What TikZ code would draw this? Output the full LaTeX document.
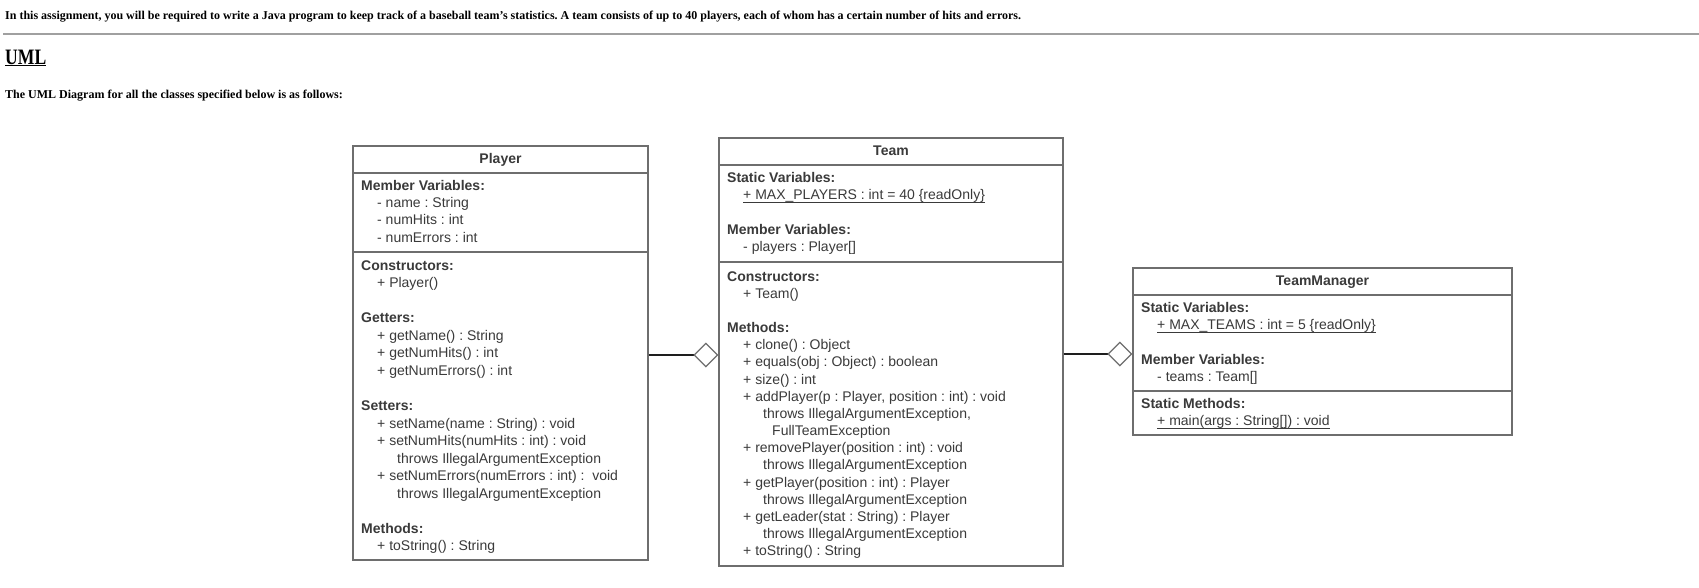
\documentclass[tikz,border=0pt]{standalone}
\usepackage{fontspec}
\setmainfont{Liberation Serif}
\setsansfont{Liberation Sans}
\usetikzlibrary{arrows.meta,positioning}
\definecolor{umlline}{HTML}{6E6E6E}
\definecolor{umltext}{HTML}{3A3A3A}
\definecolor{umlconn}{HTML}{1E1E1E}
\definecolor{rulegray}{HTML}{A0A0A0}
\frenchspacing
\newcommand{\umlindent}[1]{\hspace*{#1pt}}
\newlength{\umlulwd}
\newcommand{\umlunder}[1]{\settowidth{\umlulwd}{#1}\rlap{\rule[-2.6pt]{\umlulwd}{0.8pt}}#1}

\tikzset{
  classbox/.style={draw=umlline, line width=1.3pt, inner sep=0pt, fill=white},
  divider/.style={draw=umlline, line width=1.3pt},
  classname/.style={font=\sffamily\bfseries\fontsize{14}{17}\selectfont, text=umltext, anchor=base, inner sep=0pt},
  members/.style={font=\sffamily\fontsize{14}{#1}\selectfont, text=umltext, align=left, anchor=north west, inner sep=0pt},
  pagetext/.style={font=\bfseries\fontsize{12}{14}\selectfont, anchor=base west, inner sep=0pt},
  agg/.style={draw=umlconn, line width=2.2pt, -{Diamond[open, length=25pt, width=25pt, line width=1.3pt, color=umlline]}},
}

\begin{document}
\begin{tikzpicture}[x=1pt,y=-1pt]
\fill[white] (0,0) rectangle (1699,587);
\useasboundingbox (0,0) rectangle (1699,587);

% page text
\node[pagetext] (intro) at (5,19.5) {In this assignment, you will be required to write a Java program to keep track of a baseball team’s statistics. A team consists of up to 40 players, each of whom has a certain number of hits and errors.};
\draw[rulegray, line width=1.5pt] (3,34) -- (1699,34);
\node[anchor=base west, inner sep=0pt] (umlhead) at (5,64) {\scalebox{0.8}[1]{\fontsize{22}{26}\selectfont\bfseries\underline{UML}}};
\node[pagetext] (umlintro) at (5,98.5) {The UML Diagram for all the classes specified below is as follows:};

% class boxes
\node[classbox, minimum width=295pt, minimum height=414pt] (player) at (500.5,353) {};
\node[classbox, minimum width=344pt, minimum height=428pt] (team) at (891,352) {};
\node[classbox, minimum width=379pt, minimum height=167pt] (manager) at (1322.5,351.5) {};

% compartments
\draw[divider] (353,173) -- (648,173);
\draw[divider] (353,252) -- (648,252);
\draw[divider] (719,165) -- (1063,165);
\draw[divider] (719,262) -- (1063,262);
\draw[divider] (1133,295) -- (1512,295);
\draw[divider] (1133,391) -- (1512,391);

% Player
\node[classname] (playername) at (500.5,163) {Player};
\node[members=17.4] (playervars) at (361,177.8) {\strut\textbf{Member Variables:}\\
  \umlindent{16}- name : String\\
  \umlindent{16}- numHits : int\\
  \umlindent{16}- numErrors : int};
\node[members=17.55] (playerops) at (361,257.7) {\strut\textbf{Constructors:}\\
  \umlindent{16}+ Player()\\[17.55pt]
  \textbf{Getters:}\\
  \umlindent{16}+ getName() : String\\
  \umlindent{16}+ getNumHits() : int\\
  \umlindent{16}+ getNumErrors() : int\\[17.55pt]
  \textbf{Setters:}\\
  \umlindent{16}+ setName(name : String) : void\\
  \umlindent{16}+ setNumHits(numHits : int) : void\\
  \umlindent{36}throws IllegalArgumentException\\
  \umlindent{16}+ setNumErrors(numErrors : int) :\ \ void\\
  \umlindent{36}throws IllegalArgumentException\\[17.55pt]
  \textbf{Methods:}\\
  \umlindent{16}+ toString() : String};

% Team
\node[classname] (teamname) at (891,155) {Team};
\node[members=17.15] (teamvars) at (727,170.5) {\strut\textbf{Static Variables:}\\
  \umlindent{16}\umlunder{+ MAX\_PLAYERS : int = 40 \{readOnly\}}\\[17.15pt]
  \textbf{Member Variables:}\\
  \umlindent{16}- players : Player[]};
\node[members=17.15] (teamops) at (727,269) {\strut\textbf{Constructors:}\\
  \umlindent{16}+ Team()\\[17.15pt]
  \textbf{Methods:}\\
  \umlindent{16}+ clone() : Object\\
  \umlindent{16}+ equals(obj : Object) : boolean\\
  \umlindent{16}+ size() : int\\
  \umlindent{16}+ addPlayer(p : Player, position : int) : void\\
  \umlindent{36}throws IllegalArgumentException,\\
  \umlindent{45}FullTeamException\\
  \umlindent{16}+ removePlayer(position : int) : void\\
  \umlindent{36}throws IllegalArgumentException\\
  \umlindent{16}+ getPlayer(position : int) : Player\\
  \umlindent{36}throws IllegalArgumentException\\
  \umlindent{16}+ getLeader(stat : String) : Player\\
  \umlindent{36}throws IllegalArgumentException\\
  \umlindent{16}+ toString() : String};

% TeamManager
\node[classname] (managername) at (1322.5,285) {TeamManager};
\node[members=17.2] (managervars) at (1141,300.5) {\strut\textbf{Static Variables:}\\
  \umlindent{16}\umlunder{+ MAX\_TEAMS : int = 5 \{readOnly\}}\\[17.2pt]
  \textbf{Member Variables:}\\
  \umlindent{16}- teams : Team[]};
\node[members=17.2] (managerops) at (1141,396.3) {\strut\textbf{Static Methods:}\\
  \umlindent{16}\umlunder{+ main(args : String[]) : void}};

% aggregations
\draw[agg] ([yshift=-2pt]player.east) -- ([yshift=-2pt]player.east -| team.west);
\draw[agg] ([yshift=-2pt]team.east) -- ([yshift=-2pt]team.east -| manager.west);
\end{tikzpicture}
\end{document}
